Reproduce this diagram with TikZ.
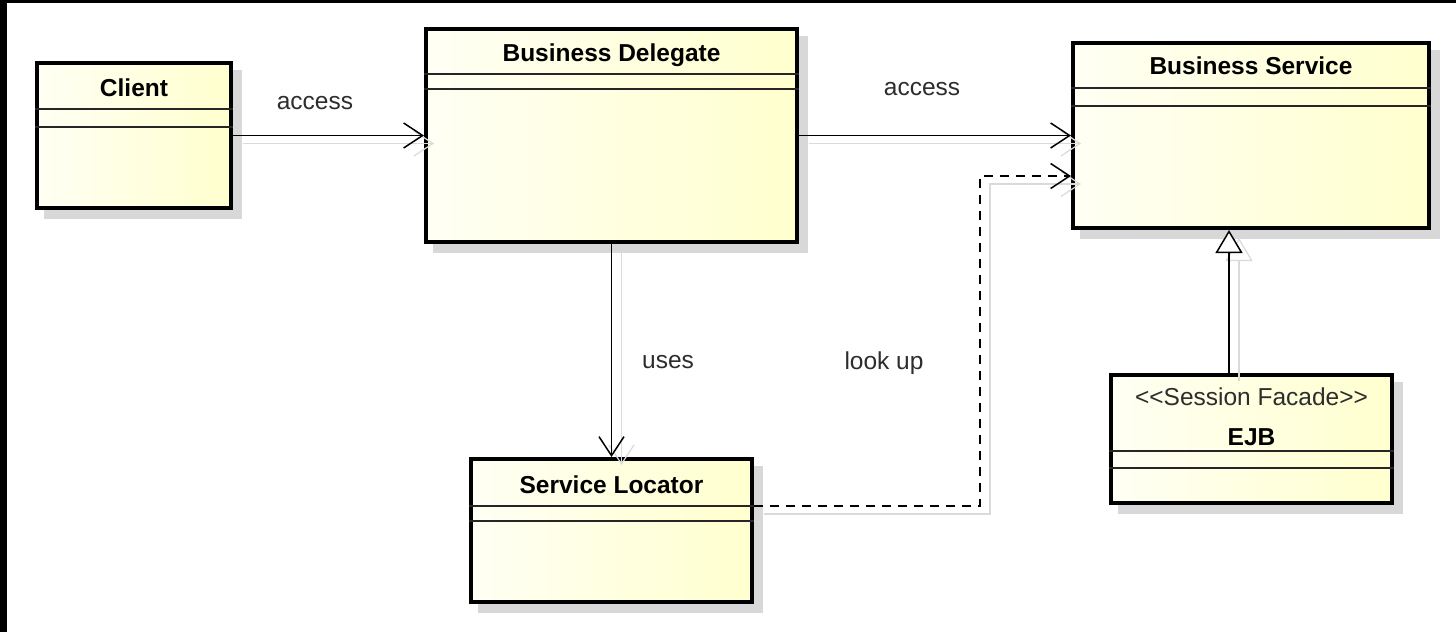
\documentclass[tikz,border=0pt]{standalone}
\usepackage{fontspec}
\setmainfont{Liberation Sans}
\usetikzlibrary{arrows.meta,calc}
\pgfdeclarelayer{background}
\pgfsetlayers{background,main}

\definecolor{boxlight}{RGB}{255,255,244}
\definecolor{boxdeep}{RGB}{255,255,206}
\definecolor{dropshade}{RGB}{216,216,216}
\definecolor{ghostline}{RGB}{218,218,218}
\definecolor{labelink}{RGB}{45,45,45}

\tikzset{
  every node/.style={font=\fontsize{24.5pt}{29pt}\selectfont},
  umlclass/.style={rectangle, draw=black, line width=4pt, inner sep=0pt,
    anchor=north west, left color=boxlight, right color=boxdeep},
  classname/.style={inner sep=0pt, text height=17.5pt, text depth=0pt,
    font=\fontsize{24.5pt}{29pt}\selectfont\bfseries},
  stereo/.style={inner sep=0pt, text height=17.5pt, text depth=0pt, text=labelink},
  linklabel/.style={inner sep=0pt, text height=17.5pt, text depth=0pt, text=labelink},
  sepline/.style={line width=1.6pt, draw=black!85},
  assoc/.style={line width=1.5pt, draw=black,
    -{Straight Barb[length=19pt,width=25pt,line width=1.5pt]}},
  depend/.style={assoc, dash pattern=on 9pt off 7pt},
  general/.style={line width=1.5pt, draw=black,
    -{Triangle[open,length=23pt,width=27pt,line width=1.5pt,fill=white]}},
  ghost/.style={line width=1.2pt, draw=ghostline,
    -{Straight Barb[length=19pt,width=25pt,line width=1.2pt]}},
  ghostgen/.style={line width=1.2pt, draw=ghostline,
    -{Triangle[open,length=23pt,width=27pt,line width=1.2pt]}},
  ghostshift/.style={xshift=10pt, yshift=-8pt},
}

% two compartment rules below the name field of a class box
\newcommand\umlsplit[3]{%
  \draw[sepline] ($(#1.north west)+(0,#2)$) -- ($(#1.north east)+(0,#2)$);
  \draw[sepline] ($(#1.north west)+(0,#3)$) -- ($(#1.north east)+(0,#3)$);
}
% grey drop shadow behind a class box
\newcommand\dropshadow[1]{%
  \fill[dropshade] ($(#1.north west)+(9,9)$) rectangle ($(#1.south east)+(9,9)$);
}

\begin{document}
\begin{tikzpicture}[x=1pt,y=-1pt]
  \useasboundingbox (0,0) rectangle (1456,632);

  % class boxes
  \node[umlclass, minimum width=194pt, minimum height=145pt] (client) at (35,61) {};
  \node[umlclass, minimum width=371pt, minimum height=213pt] (delegate) at (424,27) {};
  \node[umlclass, minimum width=356pt, minimum height=185pt] (service) at (1071,41) {};
  \node[umlclass, minimum width=281pt, minimum height=143pt] (locator) at (469,457) {};
  \node[umlclass, minimum width=281pt, minimum height=128pt] (ejb) at (1109,373) {};

  % canvas, frame strips and drop shadows
  \begin{pgfonlayer}{background}
    \fill[white] (0,0) rectangle (1456,632);
    \fill[black] (0,0) rectangle (1456,3);
    \fill[black] (0,0) rectangle (7,632);
    \dropshadow{client}
    \dropshadow{delegate}
    \dropshadow{service}
    \dropshadow{locator}
    \dropshadow{ejb}
  \end{pgfonlayer}

  \umlsplit{client}{48}{66}
  \umlsplit{delegate}{47}{62}
  \umlsplit{service}{47}{65}
  \umlsplit{locator}{49}{64}
  \umlsplit{ejb}{78}{95}

  % class names
  \node[classname] (client-name) at ($(client.north)+(0,27)$) {Client};
  \node[classname] (delegate-name) at ($(delegate.north)+(0,26)$) {Business Delegate};
  \node[classname] (service-name) at ($(service.north)+(0,25)$) {Business Service};
  \node[classname] (locator-name) at ($(locator.north)+(0,28)$) {Service Locator};
  \node[stereo] (ejb-stereo) at ($(ejb.north)+(0,24)$) {<{}<Session Facade>{}>};
  \node[classname] (ejb-name) at ($(ejb.north)+(0,64)$) {EJB};

  % connector end points
  \coordinate (lookup-end) at ([yshift=-40.5pt]service.west);
  \coordinate (lookup-start) at ([yshift=24.5pt]locator.east);
  \coordinate (lookup-turn) at ([xshift=-91pt]lookup-end);
  \coordinate (gen-end) at ([xshift=-22pt]service.south);
  \coordinate (gen-start) at (ejb.north -| gen-end);

  % faint offset copies of the connectors
  \draw[ghost] ([ghostshift]client.east) -- ([ghostshift]delegate.west);
  \draw[ghost] ([ghostshift]delegate.east) -- ([ghostshift]service.west);
  \draw[ghost] ([ghostshift]delegate.south) -- ([ghostshift]locator.north);
  \draw[ghost] ([ghostshift]lookup-start) -| ([ghostshift]lookup-turn) -- ([ghostshift]lookup-end);
  \draw[ghostgen] ([ghostshift]gen-start) -- ([ghostshift]gen-end);

  % connectors
  \draw[assoc] (client.east) -- (delegate.west);
  \draw[assoc] (delegate.east) -- (service.west);
  \draw[assoc] (delegate.south) -- (locator.north);
  \draw[depend] (lookup-start) -| (lookup-turn) -- (lookup-end);
  \draw[general] (gen-start) -- (gen-end);

  % connector labels
  \node[linklabel] (access-a) at (315,101) {access};
  \node[linklabel] (access-b) at (922,87) {access};
  \node[linklabel] (uses) at (668,360) {uses};
  \node[linklabel] (lookup) at (884,361) {look up};
\end{tikzpicture}
\end{document}
